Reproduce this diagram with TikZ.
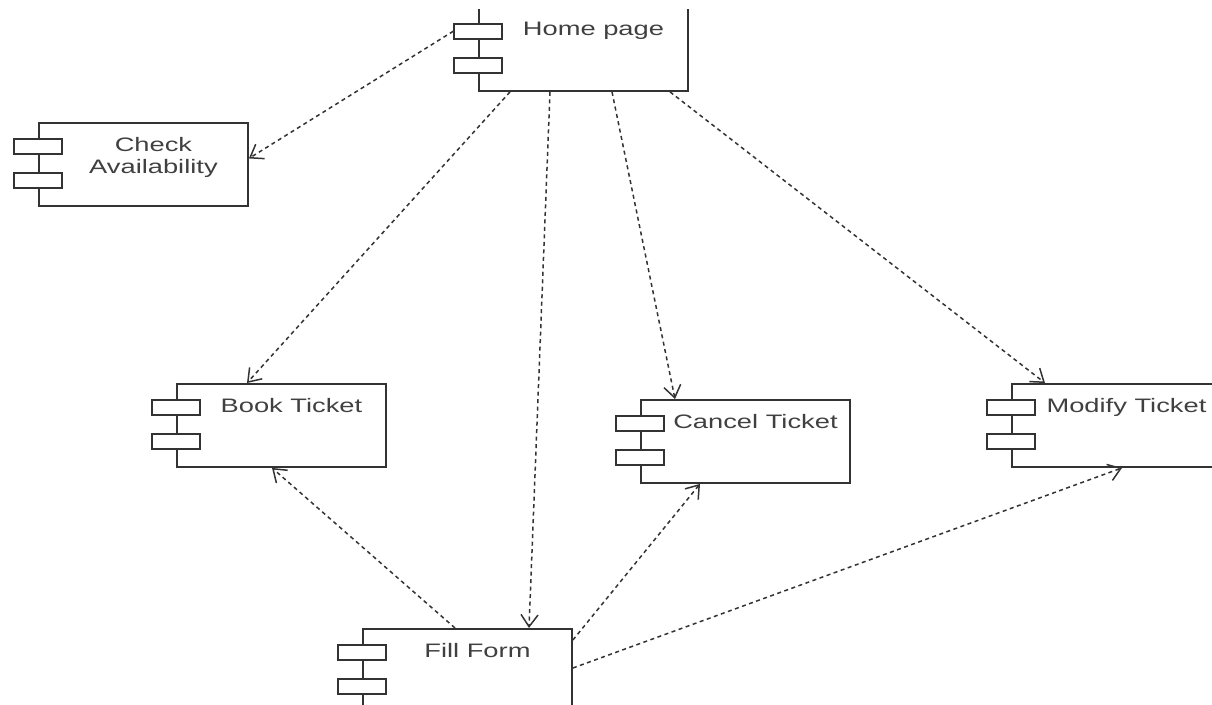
\documentclass[tikz,border=0pt]{standalone}
\usepackage{fontspec}
\newfontfamily\compfont[FakeStretch=1.4]{Liberation Sans}
\usetikzlibrary{arrows.meta}

\begin{document}
\begin{tikzpicture}[x=1pt, y=-1pt,
        comp/.style={draw=black!80, line width=1.9pt, minimum width=209pt,
            minimum height=83pt, inner sep=0pt, anchor=north west,
            label={[anchor=north, xshift=10pt, yshift=-12pt, align=center,
                text=black!75, font=\compfont\fontsize{19.5}{22}\selectfont]north:#1}},
        tab/.style={draw=black!80, fill=white, line width=1.5pt, minimum width=48pt,
            minimum height=15pt, inner sep=0pt, anchor=north},
        dep/.style={draw=black!80, line width=1.5pt, dash pattern=on 4pt off 3.5pt,
            -{Straight Barb[length=12pt, width=17pt]}}]
    \useasboundingbox (0,0) rectangle (1212,704);
    \clip (0,9) rectangle (1212,704);

    \node[comp=Home page] (home) at (478,7) {};
    \node[comp={Check\\Availability}] (check) at (38,122) {};
    \node[comp=Book Ticket] (book) at (176,383) {};
    \node[comp=Cancel Ticket] (cancel) at (640,399) {};
    \node[comp=Modify Ticket] (modify) at (1011,383) {};
    \node[comp=Fill Form] (fill) at (362,628) {};

    \foreach \c in {home,check,book,cancel,modify,fill} {
        \node[tab] (\c-t1) at ([yshift=-16pt]\c.north west) {};
        \node[tab] (\c-t2) at ([yshift=-50pt]\c.north west) {};
    }

    \draw[dep] (home-t1.west) -- ([yshift=6pt]check.east);
    \draw[dep] ([xshift=32pt]home.south west) -- ([xshift=71pt]book.north west);
    \draw[dep] ([xshift=72pt]home.south west) -- ([xshift=167pt]fill.north west);
    \draw[dep] ([xshift=134pt]home.south west) -- ([xshift=35pt]cancel.north west);
    \draw[dep] ([xshift=192pt]home.south west) -- ([xshift=34pt]modify.north west);
    \draw[dep] ([xshift=93pt]fill.north west) -- ([xshift=96pt]book.south west);
    \draw[dep] ([yshift=-12pt]fill.north east) -- ([xshift=60pt]cancel.south west);
    \draw[dep] ([yshift=-40pt]fill.north east) -- ([xshift=111pt]modify.south west);
\end{tikzpicture}
\end{document}
